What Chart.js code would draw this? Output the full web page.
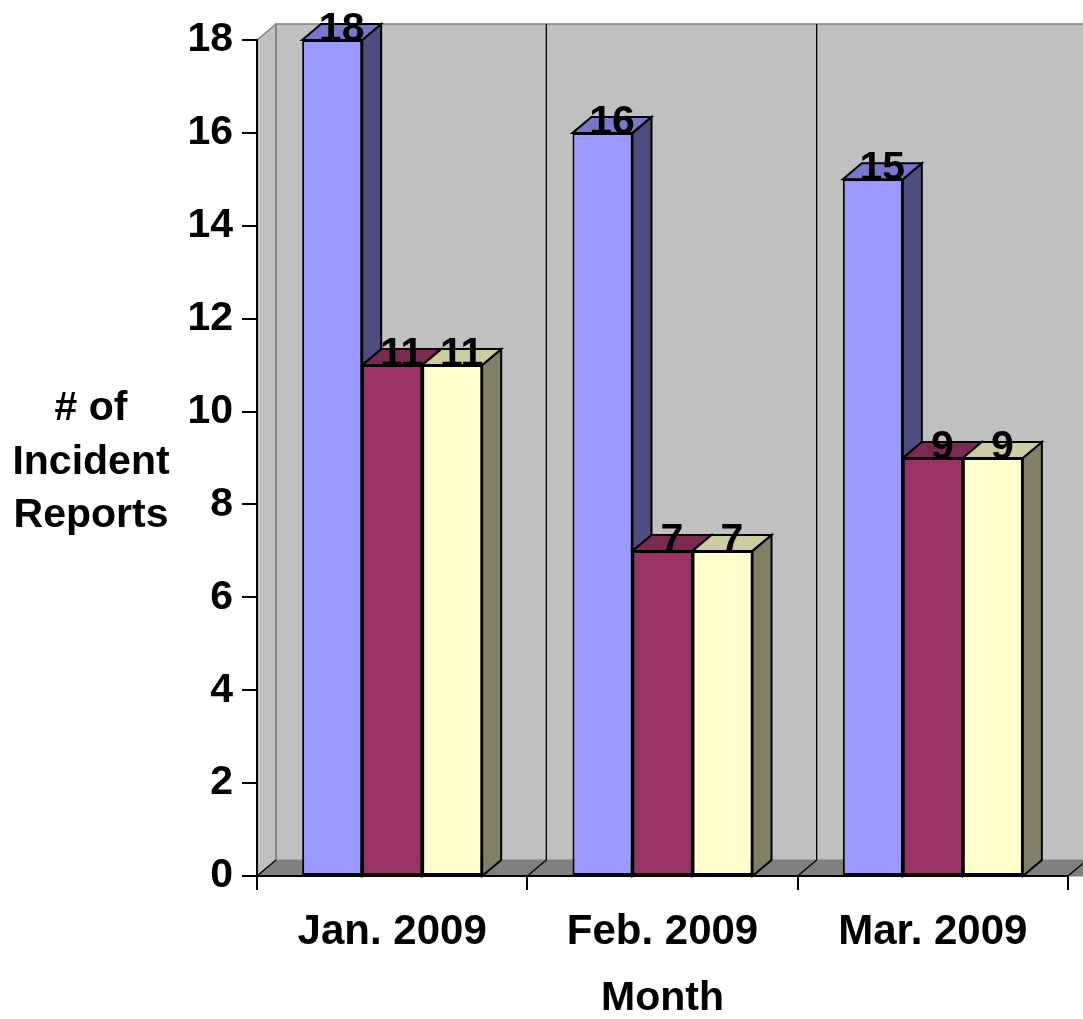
<!DOCTYPE html>
<html>
<head>
<meta charset="utf-8">
<script src="https://cdn.jsdelivr.net/npm/chart.js@4.4.1/dist/chart.umd.min.js"></script>
<style>
  body { margin: 0; background: #fff; }
  canvas { display: block; }
</style>
</head>
<body>
<canvas id="incidentChart" width="1083" height="1019"></canvas>
<script>
// datos del gráfico
const months = ['Jan. 2009', 'Feb. 2009', 'Mar. 2009'];
const series1 = [18, 16, 15];
const series2 = [11, 7, 9];
const series3 = [11, 7, 9];
const yTicks = [0, 2, 4, 6, 8, 10, 12, 14, 16, 18];
const yTitle = ['# of', 'Incident', 'Reports'];
const xTitle = 'Month';

const FONT = '"Liberation Sans", Arial, sans-serif';
const DX = 19, DY = -16; // profundidad 3D

// colores: frente, arriba, lado
const faces = [
  { front: '#9999FF', top: '#7777CC', side: '#4D4D80' },
  { front: '#993366', top: '#7A2952', side: '#4D1A33' },
  { front: '#FFFFCC', top: '#CCCCA3', side: '#808066' }
];

function poly(ctx, pts, fill, stroke, lw) {
  ctx.beginPath();
  ctx.moveTo(pts[0][0], pts[0][1]);
  for (let i = 1; i < pts.length; i++) ctx.lineTo(pts[i][0], pts[i][1]);
  ctx.closePath();
  if (fill) { ctx.fillStyle = fill; ctx.fill(); }
  if (stroke) { ctx.strokeStyle = stroke; ctx.lineWidth = lw || 1; ctx.stroke(); }
}

// paredes y piso en 3D
const wallsPlugin = {
  id: 'walls',
  beforeDraw(chart) {
    const ctx = chart.ctx;
    const x = chart.scales.x, y = chart.scales.y;
    const top = y.getPixelForValue(yTicks[yTicks.length - 1]);
    const bottom = y.getPixelForValue(0);
    const left = x.left, right = x.right;
    const w = (right - left) / months.length;
    ctx.save();
    // pared de fondo
    poly(ctx, [[left + DX, top + DY], [right + DX + 40, top + DY], [right + DX + 40, bottom + DY], [left + DX, bottom + DY]], '#C0C0C0');
    // pared lateral
    poly(ctx, [[left, top], [left + DX, top + DY], [left + DX, bottom + DY], [left, bottom]], '#C0C0C0', '#808080', 1.5);
    // piso
    poly(ctx, [[left, bottom], [left + DX, bottom + DY], [right + DX + 40, bottom + DY], [right + 40, bottom]], '#808080', '#808080', 1);
    // borde superior de la pared
    ctx.strokeStyle = '#808080';
    ctx.lineWidth = 1.5;
    ctx.beginPath();
    ctx.moveTo(left + DX, bottom + DY);
    ctx.lineTo(left + DX, top + DY);
    ctx.lineTo(right + DX + 40, top + DY);
    ctx.stroke();
    // líneas de división
    ctx.strokeStyle = '#000';
    ctx.lineWidth = 1.3;
    for (let i = 1; i <= months.length; i++) {
      const bx = left + i * w;
      ctx.beginPath();
      ctx.moveTo(bx + DX, top + DY);
      ctx.lineTo(bx + DX, bottom + DY);
      ctx.lineTo(bx, bottom);
      ctx.stroke();
    }
    ctx.beginPath();
    ctx.moveTo(left, bottom);
    ctx.lineTo(left + DX, bottom + DY);
    ctx.stroke();
    ctx.restore();
  },
  beforeDatasetsDraw(chart) {
    const ctx = chart.ctx;
    const base = chart.scales.y.getPixelForValue(0);
    ctx.save();
    for (let c = 0; c < months.length; c++) {
      chart.data.datasets.forEach((ds, i) => {
        const bar = chart.getDatasetMeta(i).data[c];
        const l = bar.x - bar.width / 2, r = bar.x + bar.width / 2, t = bar.y;
        const f = faces[i];
        poly(ctx, [[r, t], [r + DX, t + DY], [r + DX, base + DY], [r, base]], f.side, '#000', 2);
        poly(ctx, [[l, t], [l + DX, t + DY], [r + DX, t + DY], [r, t]], f.top, '#000', 2);
      });
    }
    ctx.restore();
  },
  afterDatasetsDraw(chart) {
    const ctx = chart.ctx;
    ctx.save();
    ctx.font = 'bold 41px ' + FONT;
    ctx.fillStyle = '#000';
    ctx.textAlign = 'center';
    ctx.textBaseline = 'alphabetic';
    chart.data.datasets.forEach((ds, i) => {
      chart.getDatasetMeta(i).data.forEach((bar, j) => {
        ctx.fillText(String(ds.data[j]), bar.x + DX / 2, bar.y + 1);
      });
    });
    ctx.restore();
  },
  afterDraw(chart) {
    const ctx = chart.ctx;
    ctx.save();
    ctx.font = 'bold 41px ' + FONT;
    ctx.fillStyle = '#000';
    ctx.textAlign = 'center';
    ctx.textBaseline = 'alphabetic';
    const mid = chart.scales.y.getPixelForValue(8);
    yTitle.forEach((line, k) => {
      ctx.fillText(line, 91, mid - 84 + k * 53.5);
    });
    ctx.restore();
  }
};

const mkDataset = (label, data, i) => ({
  label: label,
  data: data,
  backgroundColor: faces[i].front,
  borderColor: '#000',
  borderWidth: 2,
  borderSkipped: false,
  categoryPercentage: 0.666,
  barPercentage: 1
});

new Chart(document.getElementById('incidentChart'), {
  type: 'bar',
  data: {
    labels: months,
    datasets: [
      mkDataset('Series 1', series1, 0),
      mkDataset('Series 2', series2, 1),
      mkDataset('Series 3', series3, 2)
    ]
  },
  plugins: [wallsPlugin],
  options: {
    responsive: false,
    animation: false,
    devicePixelRatio: 1,
    layout: { padding: { top: 40, right: 15, left: 0, bottom: 0 } },
    plugins: {
      legend: { display: false },
      tooltip: { enabled: false }
    },
    scales: {
      x: {
        offset: true,
        afterFit: s => { s.height = 143; },
        grid: { drawOnChartArea: false, tickLength: 14, color: '#000', lineWidth: 2 },
        border: { display: true, color: '#000', width: 2 },
        ticks: {
          color: '#000',
          font: { family: FONT, size: 42, weight: 'bold' },
          padding: 17,
          maxRotation: 0,
          autoSkip: false
        },
        title: {
          display: true,
          text: xTitle,
          color: '#000',
          font: { family: FONT, size: 41, weight: 'bold' },
          padding: { top: 0, bottom: -4 }
        }
      },
      y: {
        min: 0,
        max: 18,
        afterFit: s => { s.width = 257; },
        afterBuildTicks: s => { s.ticks = yTicks.map(v => ({ value: v })); },
        grid: { drawOnChartArea: false, tickLength: 15, color: '#000', lineWidth: 2 },
        border: { display: true, color: '#000', width: 2 },
        ticks: {
          color: '#000',
          font: { family: FONT, size: 41, weight: 'bold' },
          padding: 9
        }
      }
    }
  }
});
</script>
</body>
</html>
